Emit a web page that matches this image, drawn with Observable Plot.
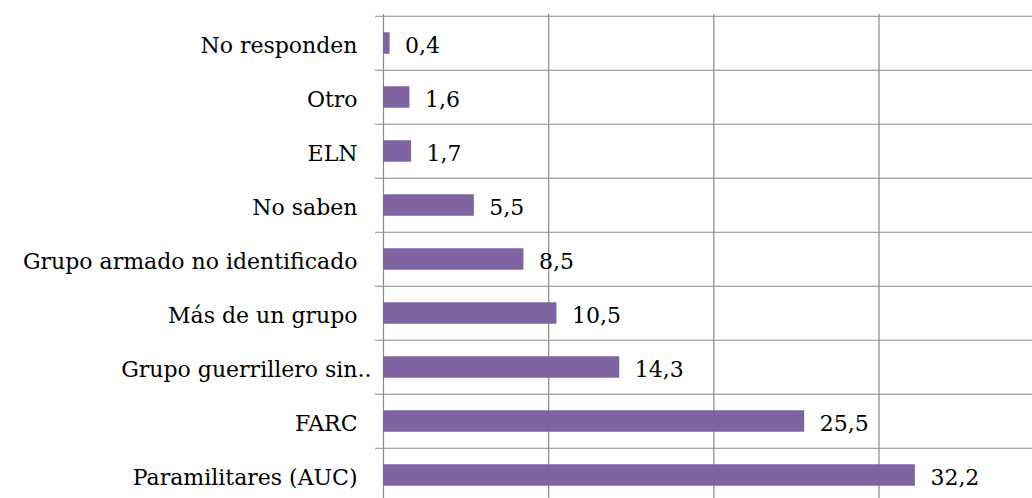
<!DOCTYPE html>
<html>
<head>
<meta charset="utf-8">
<script src="https://cdn.jsdelivr.net/npm/d3@7"></script>
<script src="https://cdn.jsdelivr.net/npm/@observablehq/plot@0.6"></script>
<style>
  html, body { margin: 0; padding: 0; background: #ffffff; overflow: hidden; }
</style>
</head>
<body>
<div id="chart"></div>
<script>
const categories = [
  "No responden",
  "Otro",
  "ELN",
  "No saben",
  "Grupo armado no identificado",
  "Más de un grupo",
  "Grupo guerrillero sin..",
  "FARC",
  "Paramilitares (AUC)"
];
const values = [0.4, 1.6, 1.7, 5.5, 8.5, 10.5, 14.3, 25.5, 32.2];
const gridTicks = [0, 10, 20, 30];

const data = categories.map((c, i) => ({cat: c, value: values[i]}));
const fmt = v => v.toFixed(1).replace(".", ",");
// Excel pads full labels with trailing spaces; the truncated one ("..") is not padded
const padLabel = d => d.endsWith("..") ? d : d + "\u00A0\u00A0";

const step = (504.5 - 14) / categories.length;
const barH = 22;

const chart = Plot.plot({
  width: 1032,
  height: 498,
  marginLeft: 375,
  marginRight: 0,
  marginTop: 14,
  marginBottom: 0,
  style: {fontFamily: "'DejaVu Serif', serif", fontSize: "22px", background: "#ffffff", color: "#000000"},
  x: {domain: [0, 39.29], range: [383, 1032], axis: null},
  y: {domain: categories, range: [14, 504.5], padding: 0, axis: null},
  marks: [
    Plot.ruleY(categories, {y: d => d, dy: -step / 2, stroke: "#898989", strokeWidth: 1.2}),
    Plot.ruleX(gridTicks, {x: d => d, stroke: "#898989", strokeWidth: 1.2}),
    Plot.barX(data, {y: "cat", x: "value", fill: "#8064A2", insetTop: (step - barH) / 2, insetBottom: (step - barH) / 2}),
    Plot.text(data, {y: "cat", x: "value", text: d => fmt(d.value), dx: 15, dy: 2, textAnchor: "start", fill: "#000000", fontSize: 22}),
    Plot.text(categories, {y: d => d, x: d => 0, text: padLabel, dx: -12, dy: 2, textAnchor: "end", fill: "#000000", fontSize: 22})
  ]
});
document.getElementById("chart").appendChild(chart);
</script>
</body>
</html>
